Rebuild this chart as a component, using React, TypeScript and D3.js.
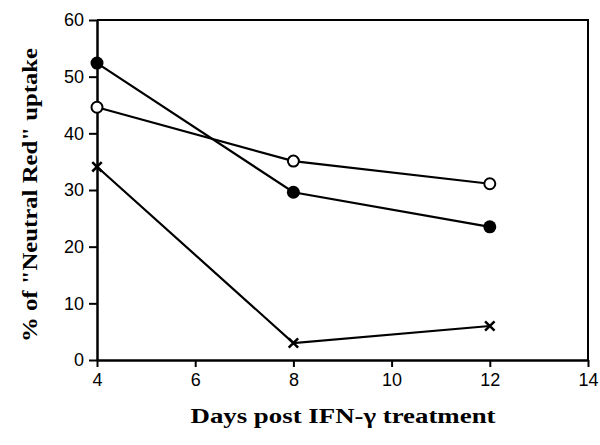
import React, { useEffect, useRef } from "react";
import * as d3 from "d3";

// days post treatment
const days = [4, 8, 12];
// % neutral red uptake per series
const filledSeries = [52.4, 29.6, 23.5];
const openSeries = [44.6, 35.1, 31.1];
const crossSeries = [34.1, 3.0, 6.0];

const xTicks = [4, 6, 8, 10, 12, 14];
const yTicks = [0, 10, 20, 30, 40, 50, 60];

const App = () => {
    const svgRef = useRef<SVGSVGElement | null>(null);

    useEffect(() => {
        const svg = d3.select(svgRef.current);
        svg.selectAll("*").remove();

        const left = 97, right = 588, top = 20, bottom = 360;

        const x = d3.scaleLinear().domain([4, 14]).range([left, right]);
        const y = d3.scaleLinear().domain([0, 60]).range([bottom, top]);

        // frame top + right
        svg.append("path")
            .attr("d", `M${left},${top}H${right}V${bottom}`)
            .attr("fill", "none")
            .attr("stroke", "#000")
            .attr("stroke-width", 2);

        // bottom axis
        const xAxis = svg.append("g")
            .attr("transform", `translate(0,${bottom})`)
            .call(d3.axisBottom(x).tickValues(xTicks).tickSize(7).tickSizeOuter(0).tickPadding(6));
        xAxis.select(".domain").attr("stroke-width", 2.5);
        xAxis.selectAll(".tick line").attr("stroke-width", 2);
        xAxis.selectAll("text")
            .style("font-family", "Liberation Sans, Arial, sans-serif")
            .style("font-size", "18px")
            .attr("fill", "#000");

        // left axis
        const yAxis = svg.append("g")
            .attr("transform", `translate(${left},0)`)
            .call(d3.axisLeft(y).tickValues(yTicks).tickSize(8).tickSizeOuter(0).tickPadding(5));
        yAxis.select(".domain").attr("stroke-width", 2.5);
        yAxis.selectAll(".tick line").attr("stroke-width", 2);
        yAxis.selectAll("text")
            .style("font-family", "Liberation Sans, Arial, sans-serif")
            .style("font-size", "18px")
            .attr("fill", "#000");

        const line = d3.line<number>()
            .x((_, i) => x(days[i]))
            .y(d => y(d));

        [filledSeries, openSeries, crossSeries].forEach(s => {
            svg.append("path")
                .datum(s)
                .attr("d", line)
                .attr("fill", "none")
                .attr("stroke", "#000")
                .attr("stroke-width", 2.2);
        });

        // filled circles
        svg.selectAll(".filled")
            .data(filledSeries)
            .enter()
            .append("circle")
            .attr("cx", (_, i) => x(days[i]))
            .attr("cy", d => y(d))
            .attr("r", 6.5)
            .attr("fill", "#000");

        // open circles
        svg.selectAll(".open")
            .data(openSeries)
            .enter()
            .append("circle")
            .attr("cx", (_, i) => x(days[i]))
            .attr("cy", d => y(d))
            .attr("r", 5.5)
            .attr("fill", "#fff")
            .attr("stroke", "#000")
            .attr("stroke-width", 2);

        // crosses
        const cross = d3.symbol().type(d3.symbolX).size(60);
        svg.selectAll(".cross")
            .data(crossSeries)
            .enter()
            .append("path")
            .attr("transform", (d, i) => `translate(${x(days[i])},${y(d)})`)
            .attr("d", cross)
            .attr("fill", "none")
            .attr("stroke", "#000")
            .attr("stroke-width", 2.5);

        // axis titles
        svg.append("text")
            .attr("x", 343)
            .attr("y", 423)
            .attr("text-anchor", "middle")
            .attr("textLength", 305)
            .attr("lengthAdjust", "spacingAndGlyphs")
            .style("font-family", "Liberation Serif, Times New Roman, serif")
            .style("font-weight", "bold")
            .style("font-size", "22px")
            .text("Days post IFN-γ treatment");

        svg.append("text")
            .attr("transform", "translate(37,195) rotate(-90)")
            .attr("text-anchor", "middle")
            .attr("textLength", 294)
            .attr("lengthAdjust", "spacingAndGlyphs")
            .style("font-family", "Liberation Serif, Times New Roman, serif")
            .style("font-weight", "bold")
            .style("font-size", "21px")
            .text("% of \"Neutral Red\" uptake");
    }, []);

    return (
        <svg ref={svgRef} width={600} height={445}
            style={{ position: "absolute", left: 0, top: 0, background: "#fff" }}></svg>
    );
};

export default App;
